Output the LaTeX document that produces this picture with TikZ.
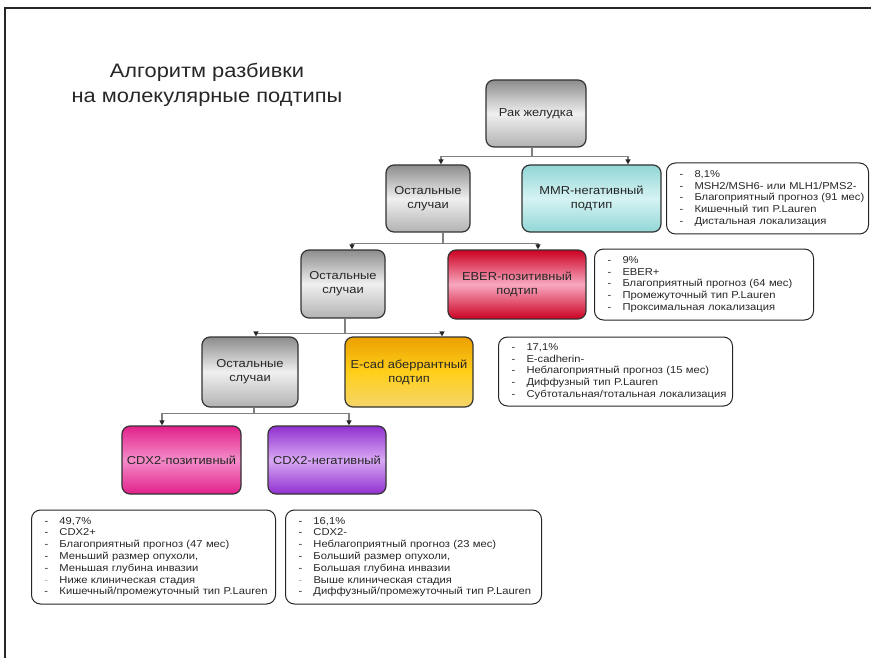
\documentclass[tikz,border=0pt]{standalone}
\usepackage{fontspec}
\setmainfont{Liberation Sans}[FakeStretch=1.12]
\usetikzlibrary{arrows.meta}

\definecolor{mmrtop}{HTML}{92D6D6}
\definecolor{mmrmid}{HTML}{D6F3F3}
\definecolor{ebertop}{HTML}{CC0022}
\definecolor{ebermid}{HTML}{F8A8C0}
\definecolor{ecadtop}{HTML}{ECA000}
\definecolor{ecadmid}{HTML}{FFCF1A}
\definecolor{ecadbot}{HTML}{F5D56A}
\definecolor{cdxptop}{HTML}{E2208A}
\definecolor{cdxpmid}{HTML}{F48CC8}
\definecolor{cdxntop}{HTML}{9030D0}
\definecolor{cdxnmid}{HTML}{D8A8F5}

\tikzset{
  box/.style={draw=black!80,line width=1.2pt,rounded corners=8pt,inner sep=0pt,
    align=center,font=\fontsize{11.5}{14}\selectfont,text=black!85},
  graybox/.style={box,top color=black!45,bottom color=black!30,middle color=black!6},
  infobox/.style={draw=black!85,line width=1pt,rounded corners=9pt,inner xsep=1pt,
    inner ysep=3pt,align=left,font=\fontsize{10}{11.8}\selectfont,text=black!85},
  link/.style={draw=black!50,line width=1.2pt},
  tip/.style={-{Triangle[width=5pt,length=5pt]},arrows={[color=black!85]}}
}
\newcommand{\itm}[1]{\hspace*{12pt}\makebox[15pt][l]{-}#1}
\newcommand{\itmg}[1]{\hspace*{12pt}\makebox[15pt][l]{\textcolor{black!35}{-}}#1}

\begin{document}
\begin{tikzpicture}[x=1pt,y=-1pt]
\useasboundingbox (0,0) rectangle (871,658);
% slide frame
\draw[line width=1.5pt,black!85] (5,658) -- (5,8) -- (871,8);

\node[align=center,font=\fontsize{19.5}{25}\selectfont,text=black!85] (title) at (207,85)
  {Алгоритм разбивки\\на молекулярные подтипы};

% tree boxes
\node[graybox,minimum width=100pt,minimum height=67pt] (root) at (536,113.5) {Рак желудка};
\node[graybox,minimum width=84pt,minimum height=67pt] (rest1) at (428,198.5) {Остальные\\случаи};
\node[box,top color=mmrtop,bottom color=mmrtop,middle color=mmrmid,minimum width=139pt,minimum height=67pt] (mmr) at (591.5,198.5) {MMR-негативный\\подтип};
\node[graybox,minimum width=84pt,minimum height=68pt] (rest2) at (343,284) {Остальные\\случаи};
\node[box,top color=ebertop,bottom color=ebertop,middle color=ebermid,minimum width=138pt,minimum height=69pt] (eber) at (517,284.5) {EBER-позитивный\\подтип};
\node[graybox,minimum width=96pt,minimum height=70pt] (rest3) at (250,372) {Остальные\\случаи};
\node[box,top color=ecadtop,bottom color=ecadbot,middle color=ecadmid,minimum width=128pt,minimum height=70pt] (ecad) at (409,372) {E-cad аберрантный\\подтип};
\node[box,top color=cdxptop,bottom color=cdxptop,middle color=cdxpmid,minimum width=119pt,minimum height=68pt] (cdxp) at (181.5,460) {CDX2-позитивный};
\node[box,top color=cdxntop,bottom color=cdxntop,middle color=cdxnmid,minimum width=118pt,minimum height=68pt] (cdxn) at (327,460) {CDX2-негативный};

% info boxes
\node[infobox,text width=200pt,minimum height=71pt] (mmrinfo) at (767.5,198.5)
  {\itm{8,1\%}\\\itm{MSH2/MSH6- или MLH1/PMS2-}\\\itm{Благоприятный прогноз (91 мес)}\\\itm{Кишечный тип P.Lauren}\\\itm{Дистальная локализация}};
\node[infobox,text width=217pt,minimum height=71pt] (eberinfo) at (704,284.5)
  {\itm{9\%}\\\itm{EBER+}\\\itm{Благоприятный прогноз (64 мес)}\\\itm{Промежуточный тип P.Lauren}\\\itm{Проксимальная локализация}};
\node[infobox,text width=232pt,minimum height=69pt] (ecadinfo) at (615.5,371.5)
  {\itm{17,1\%}\\\itm{E-cadherin-}\\\itm{Неблагоприятный прогноз (15 мес)}\\\itm{Диффузный тип P.Lauren}\\\itm{Субтотальная/тотальная локализация}};
\node[infobox,text width=242pt,minimum height=94pt] (cdxpinfo) at (153.5,557)
  {\itm{49,7\%}\\\itm{CDX2+}\\\itm{Благоприятный прогноз (47 мес)}\\\itm{Меньший размер опухоли,}\\\itm{Меньшая глубина инвазии}\\\itmg{Ниже клиническая стадия}\\\itm{Кишечный/промежуточный тип P.Lauren}};
\node[infobox,text width=254pt,minimum height=94pt] (cdxninfo) at (413.5,557)
  {\itm{16,1\%}\\\itm{CDX2-}\\\itm{Неблагоприятный прогноз (23 мес)}\\\itm{Больший размер опухоли,}\\\itm{Большая глубина инвазии}\\\itmg{Выше клиническая стадия}\\\itm{Диффузный/промежуточный тип P.Lauren}};

% connectors
\draw[link] ([xshift=-4pt]root.south) -- ++(0,9) coordinate (j1);
\draw[link,tip] (j1) -| ([xshift=13pt]rest1.north);
\draw[link,tip] (j1) -| ([xshift=36.5pt]mmr.north);

\draw[link] ([xshift=15pt]rest1.south) -- ++(0,11) coordinate (j2);
\draw[link,tip] (j2) -| ([xshift=9pt]rest2.north);
\draw[link,tip] (j2) -| ([xshift=21pt]eber.north);

\draw[link] ([xshift=2pt]rest2.south) -- ++(0,15) coordinate (j3);
\draw[link,tip] (j3) -| ([xshift=6pt]rest3.north);
\draw[link,tip] (j3) -| ([xshift=33pt]ecad.north);

\draw[link] ([xshift=4pt]rest3.south) -- ++(0,6) coordinate (j4);
\draw[link,tip] (j4) -| ([xshift=-19.5pt]cdxp.north);
\draw[link,tip] (j4) -| ([xshift=22pt]cdxn.north);
\end{tikzpicture}
\end{document}
